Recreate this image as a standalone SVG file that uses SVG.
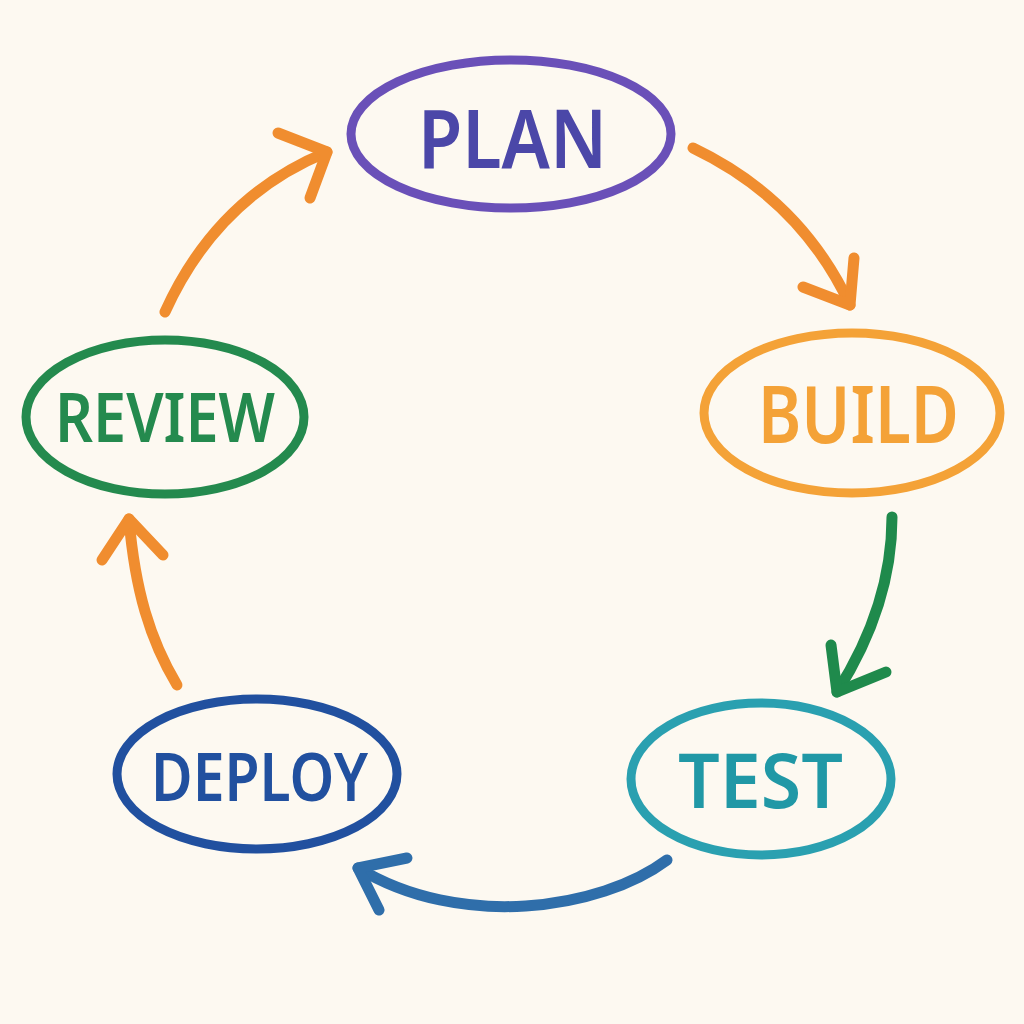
<svg xmlns="http://www.w3.org/2000/svg" width="1024" height="1024" viewBox="0 0 1024 1024">
  <style>
    .node { fill: none; stroke-width: 9; }
    .lbl { font-family: "Noto Sans", "Open Sans", "DejaVu Sans", sans-serif; font-weight: 600; text-anchor: start; }
    .arr { fill: none; stroke-width: 11; stroke-linecap: round; stroke-linejoin: round; }
    .orange { stroke: #f08d2f; }
  </style>
  <rect width="1024" height="1024" fill="#fdf9f1"/>

  <g id="connectors">
    <g id="plan-build">
      <path class="arr orange" d="M693,148 C760,180 815,230 850,305"/>
      <polyline class="arr orange" points="803,287 850,305 854,258"/>
    </g>
    <g id="build-test">
      <path class="arr" stroke="#1f8a4c" d="M892,517 C892,580 870,640 837,692"/>
      <polyline class="arr" stroke="#1f8a4c" points="831,645 837,692 886,672"/>
    </g>
    <g id="test-deploy">
      <path class="arr" stroke="#2f6eaa" d="M667,860 C600,910 460,930 358,868"/>
      <polyline class="arr" stroke="#2f6eaa" points="407,858 358,868 379,910"/>
    </g>
    <g id="deploy-review">
      <path class="arr orange" d="M177,685 C150,640 135,590 129,519"/>
      <polyline class="arr orange" points="102,560 129,519 163,555"/>
    </g>
    <g id="review-plan">
      <path class="arr orange" d="M165,312 Q217,197 327,152"/>
      <polyline class="arr orange" points="278,133 327,152 310,198"/>
    </g>
  </g>

  <g id="node-plan">
    <ellipse class="node" stroke="#6a50b8" cx="511" cy="134" rx="160" ry="74"/>
    <text class="lbl" fill="#4b47a8" x="418" y="168" font-size="81" textLength="189" lengthAdjust="spacingAndGlyphs">PLAN</text>
  </g>
  <g id="node-build">
    <ellipse class="node" stroke="#f4a237" cx="852" cy="413" rx="148" ry="80"/>
    <text class="lbl" fill="#f4a237" x="758" y="443" font-size="80" textLength="201" lengthAdjust="spacingAndGlyphs">BUILD</text>
  </g>
  <g id="node-test">
    <ellipse class="node" stroke="#2aa0b0" cx="761" cy="779" rx="130" ry="76"/>
    <text class="lbl" fill="#2098a6" x="678" y="808" font-size="76" textLength="165" lengthAdjust="spacingAndGlyphs">TEST</text>
  </g>
  <g id="node-deploy">
    <ellipse class="node" stroke="#21509f" cx="257" cy="774" rx="140" ry="75"/>
    <text class="lbl" fill="#21509f" x="151" y="801" font-size="67" textLength="217" lengthAdjust="spacingAndGlyphs">DEPLOY</text>
  </g>
  <g id="node-review">
    <ellipse class="node" stroke="#248a4e" cx="165" cy="417" rx="139" ry="77"/>
    <text class="lbl" fill="#248a4e" x="55" y="442" font-size="69" textLength="220" lengthAdjust="spacingAndGlyphs">REVIEW</text>
  </g>
</svg>
